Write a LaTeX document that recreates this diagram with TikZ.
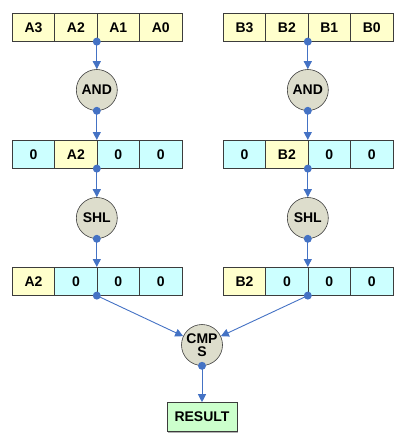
\documentclass[tikz,border=0pt]{standalone}
\usepackage{fontspec}
\setmainfont{Liberation Sans}
\usetikzlibrary{arrows.meta,calc}
\definecolor{cellY}{RGB}{255,255,204}
\definecolor{cellC}{RGB}{204,255,255}
\definecolor{opfill}{RGB}{221,221,204}
\definecolor{resfill}{RGB}{204,255,204}
\definecolor{linkblue}{RGB}{68,114,196}
\definecolor{edge}{RGB}{60,60,60}
\tikzset{
  lbl/.style={font=\bfseries\fontsize{14}{15}\selectfont},
  cell/.style={draw=edge, line width=0.6pt, minimum width=42.4pt, minimum height=28pt,
    inner sep=0pt, anchor=north west},
  ycell/.style={cell, fill=cellY},
  ccell/.style={cell, fill=cellC},
  op/.style={circle, draw=edge, line width=0.6pt, fill=opfill, minimum size=41pt,
    inner sep=0pt, align=center, lbl},
  res/.style={draw=edge, line width=0.6pt, fill=resfill, minimum width=70pt, minimum height=29pt,
    inner sep=0pt, lbl,
    preaction={fill=black!30, transform canvas={xshift=1.2pt,yshift=-1.2pt}}},
  conn/.style={draw=linkblue, line width=0.9pt, -{Triangle[length=8pt,width=8pt]}},
  dot/.style={fill=linkblue}
}
\begin{document}
\begin{tikzpicture}[x=1pt,y=-1pt]
\useasboundingbox (0,0) rectangle (407,439);
\foreach \r/\y/\a/\b/\c/\d in {1/13/ycell/ycell/ycell/ycell, 2/140/ccell/ycell/ccell/ccell, 3/267/ycell/ccell/ccell/ccell}{
  \node[\a] (L\r a) at (12,\y) {};
  \node[\b] (L\r b) at (54.4,\y) {};
  \node[\c] (L\r c) at (96.8,\y) {};
  \node[\d] (L\r d) at (139.2,\y) {};
  \node[\a] (R\r a) at (223,\y) {};
  \node[\b] (R\r b) at (265.4,\y) {};
  \node[\c] (R\r c) at (307.8,\y) {};
  \node[\d] (R\r d) at (350.2,\y) {};
}
\path[lbl]
  (L1a) node {A3} (L1b) node {A2} (L1c) node {A1} (L1d) node {A0}
  (R1a) node {B3} (R1b) node {B2} (R1c) node {B1} (R1d) node {B0}
  (L2a) node {0} (L2b) node {A2} (L2c) node {0} (L2d) node {0}
  (R2a) node {0} (R2b) node {B2} (R2c) node {0} (R2d) node {0}
  (L3a) node {A2} (L3b) node {0} (L3c) node {0} (L3d) node {0}
  (R3a) node {B2} (R3b) node {0} (R3c) node {0} (R3d) node {0};
\node[op] (andL) at (96.8,90) {AND};
\node[op] (andR) at (307.8,90) {AND};
\node[op] (shlL) at (96.8,218) {SHL};
\node[op] (shlR) at (307.8,218) {SHL};
\node[op] (cmps) at (202,345) {CMP\\[-2pt]S};
\node[res] (result) at (202,417) {RESULT};
\foreach \s in {L,R}{
  \draw[conn] (\s1c.south west) -- (and\s.north);
  \draw[conn] (and\s.south) -- (\s2c.north west);
  \draw[conn] (\s2c.south west) -- (shl\s.north);
  \draw[conn] (shl\s.south) -- (\s3c.north west);
  \draw[conn] (\s3c.south west) -- (cmps);
  \fill[dot] (\s1c.south west) circle (4pt);
  \fill[dot] (and\s.south) circle (4pt);
  \fill[dot] (\s2c.south west) circle (4pt);
  \fill[dot] (shl\s.south) circle (4pt);
  \fill[dot] (\s3c.south west) circle (4pt);
}
\draw[conn] (cmps.south) -- (result.north);
\fill[dot] (cmps.south) circle (4pt);
\end{tikzpicture}
\end{document}
